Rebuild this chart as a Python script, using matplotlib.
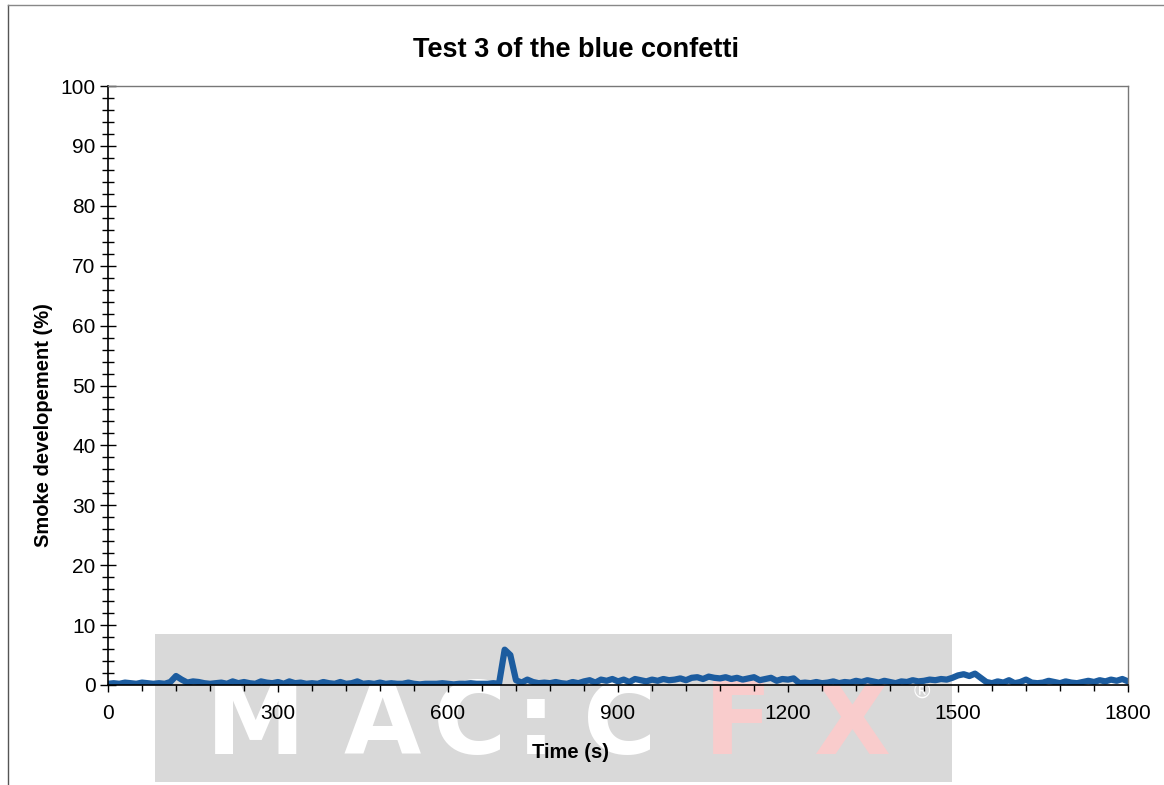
import numpy as np
import matplotlib.pyplot as plt
from matplotlib.patches import Rectangle
from matplotlib.lines import Line2D
from matplotlib.ticker import MultipleLocator

plt.rcParams['font.family'] = ['Liberation Sans', 'DejaVu Sans']

# time axis (s) and smoke readings (%)
time_s = np.arange(0, 1810, 10)
smoke_pct = [
    0.2, 0.3, 0.2, 0.4, 0.3, 0.2, 0.4, 0.3, 0.2, 0.3,
    0.2, 0.5, 1.5, 0.9, 0.4, 0.6, 0.5, 0.3, 0.2, 0.3,
    0.4, 0.2, 0.6, 0.3, 0.5, 0.3, 0.2, 0.6, 0.4, 0.3,
    0.5, 0.2, 0.6, 0.3, 0.4, 0.2, 0.3, 0.2, 0.5, 0.3,
    0.2, 0.5, 0.2, 0.3, 0.6, 0.2, 0.3, 0.2, 0.4, 0.2,
    0.3, 0.2, 0.2, 0.4, 0.2, 0.1, 0.2, 0.2, 0.2, 0.3,
    0.2, 0.1, 0.2, 0.2, 0.3, 0.2, 0.2, 0.2, 0.3, 0.2,
    5.9, 5.0, 0.8, 0.4, 0.9, 0.5, 0.3, 0.4, 0.3, 0.5,
    0.3, 0.2, 0.5, 0.3, 0.6, 0.8, 0.4, 0.9, 0.7, 1.0,
    0.6, 0.9, 0.5, 1.0, 0.8, 0.6, 0.9, 0.7, 1.0, 0.8,
    0.9, 1.1, 0.8, 1.2, 1.3, 1.0, 1.4, 1.2, 1.1, 1.3,
    1.0, 1.2, 0.9, 1.1, 1.3, 0.8, 1.0, 1.2, 0.7, 1.0,
    0.9, 1.1, 0.3, 0.4, 0.3, 0.5, 0.3, 0.4, 0.6, 0.3,
    0.5, 0.4, 0.7, 0.5, 0.8, 0.6, 0.4, 0.7, 0.5, 0.3,
    0.6, 0.5, 0.8, 0.6, 0.7, 0.9, 0.8, 1.0, 0.9, 1.2,
    1.6, 1.8, 1.5, 1.9, 1.2, 0.5, 0.3, 0.6, 0.4, 0.8,
    0.3, 0.5, 0.9, 0.4, 0.3, 0.4, 0.7, 0.5, 0.3, 0.6,
    0.4, 0.3, 0.5, 0.7, 0.5, 0.8, 0.6, 0.9, 0.7, 1.0,
    0.6,
]
x_ticks = [0, 300, 600, 900, 1200, 1500, 1800]
y_ticks = list(range(0, 101, 10))

W, H = 1164, 785
fig = plt.figure(figsize=(W / 100, H / 100), dpi=100)

# scanned page frame
fig.add_artist(Line2D([8 / W, 8 / W], [0, 1 - 5 / H], color='#555555', lw=1))
fig.add_artist(Line2D([8 / W, 1], [1 - 5 / H, 1 - 5 / H], color='#888888', lw=1))

# watermark box behind the axes
fig.add_artist(Rectangle((155 / W, 1 - 782 / H), (952 - 155) / W, (782 - 634) / H,
                         transform=fig.transFigure, facecolor='#d9d9d9',
                         edgecolor='none', zorder=-2))
wm = [('M', 256, 'white'), ('A', 382, 'white'), ('C', 470, 'white'),
      (':', 536, 'white'), ('C', 620, 'white'), ('F', 738, '#f9cccc'),
      ('X', 852, '#f9cccc')]
for ch, px, col in wm:
    fig.text(px / W, 1 - 754 / H, ch, color=col, fontsize=72, fontweight='heavy',
             family='DejaVu Sans', ha='center', va='baseline', zorder=-1)
fig.text(922 / W, 1 - 692 / H, '®', color='white', fontsize=16,
         ha='center', va='center', zorder=-1)

ax = fig.add_axes([108 / W, 1 - 685 / H, (1128 - 108) / W, (685 - 86) / H])
ax.set_facecolor('none')
ax.plot(time_s, smoke_pct, color='#1c5c9f', lw=4.5, solid_joinstyle='round')

ax.set_xlim(0, 1800)
ax.set_ylim(0, 100)
ax.set_xticks(x_ticks)
ax.set_yticks(y_ticks)
ax.xaxis.set_minor_locator(MultipleLocator(60))
ax.yaxis.set_minor_locator(MultipleLocator(2))
ax.tick_params(axis='x', which='major', direction='out', length=5, width=1,
               labelsize=15, pad=9)
ax.tick_params(axis='x', which='minor', direction='out', length=4, width=1)
ax.tick_params(axis='y', which='major', direction='inout', length=12, width=1,
               labelsize=15, pad=3)
ax.tick_params(axis='y', which='minor', direction='inout', length=8, width=1)

for side in ['top', 'right']:
    ax.spines[side].set_color('#777777')
    ax.spines[side].set_linewidth(1)
ax.spines['left'].set_linewidth(1.2)
ax.spines['bottom'].set_linewidth(1.2)

ax.set_xlabel('Time (s)', fontsize=14.5, fontweight='bold', va='center')
ax.xaxis.set_label_coords((571 - 108) / 1020, -(752 - 685) / 599)
ax.set_ylabel('Smoke developement (%)', fontsize=14.5, fontweight='bold',
              va='center', ha='center')
ax.yaxis.set_label_coords((44 - 108) / 1020, (685 - 425) / 599)
fig.text(576 / W, 1 - 50 / H, 'Test 3 of the blue confetti', fontsize=19.5,
         fontweight='bold', ha='center', va='center')

fig.savefig('out.png', dpi=100)
